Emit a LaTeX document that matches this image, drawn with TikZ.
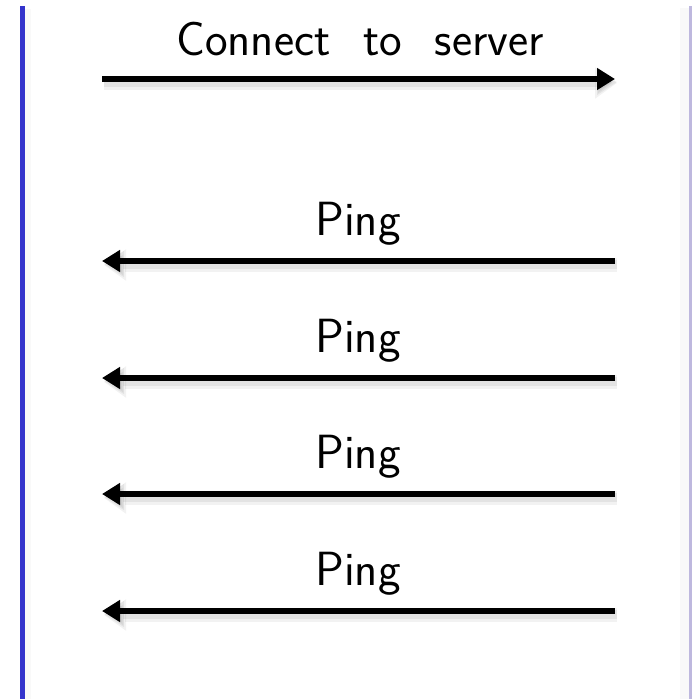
\documentclass[tikz,border=0pt]{standalone}
\usepackage{fontspec}
\usetikzlibrary{arrows.meta}
\definecolor{lifeblue}{RGB}{52,52,204}
\definecolor{lifegray}{RGB}{190,184,222}
\begin{document}
\begin{tikzpicture}[x=1pt,y=-1pt,
  msg/.style={line width=5.5pt, -{Triangle[length=18pt,width=21pt]},
    preaction={draw=black, opacity=0.05, line width=14pt, -{Triangle[length=22pt,width=30pt]}, transform canvas={shift={(2pt,-4pt)}}},
    preaction={draw=black, opacity=0.06, line width=9pt, -{Triangle[length=20pt,width=25pt]}, transform canvas={shift={(2pt,-3pt)}}}},
  lbl/.style={font=\sffamily\fontsize{48}{58}\selectfont, anchor=base, inner sep=0pt}]
  \useasboundingbox (0,0) rectangle (692,699);
  \fill[white] (0,0) rectangle (692,699);
  % lifelines with soft shadows
  \fill[black, opacity=0.025] (25,9) rectangle (31,699);
  \draw[lifeblue, line width=5pt] (22.5,6) -- (22.5,699);
  \fill[black, opacity=0.025] (680,8) rectangle (689,699);
  \draw[lifegray, line width=3pt] (690.5,6) -- (690.5,699);
  % message endpoints
  \coordinate (l1) at (102,79);  \coordinate (r1) at (615,79);
  \coordinate (l2) at (102,261); \coordinate (r2) at (615,261);
  \coordinate (l3) at (102,378); \coordinate (r3) at (615,378);
  \coordinate (l4) at (102,494); \coordinate (r4) at (615,494);
  \coordinate (l5) at (102,611); \coordinate (r5) at (615,611);
  % messages
  \draw[msg] (l1) -- (r1);
  \node[lbl] (t1) at (360,55) {Connect\hspace{0.37em} to\hspace{0.37em} server};
  \draw[msg] (r2) -- (l2);
  \node[lbl] (t2) at (358,235) {Ping};
  \draw[msg] (r3) -- (l3);
  \node[lbl] (t3) at (358,352) {Ping};
  \draw[msg] (r4) -- (l4);
  \node[lbl] (t4) at (358,468) {Ping};
  \draw[msg] (r5) -- (l5);
  \node[lbl] (t5) at (358,585) {Ping};
\end{tikzpicture}
\end{document}
